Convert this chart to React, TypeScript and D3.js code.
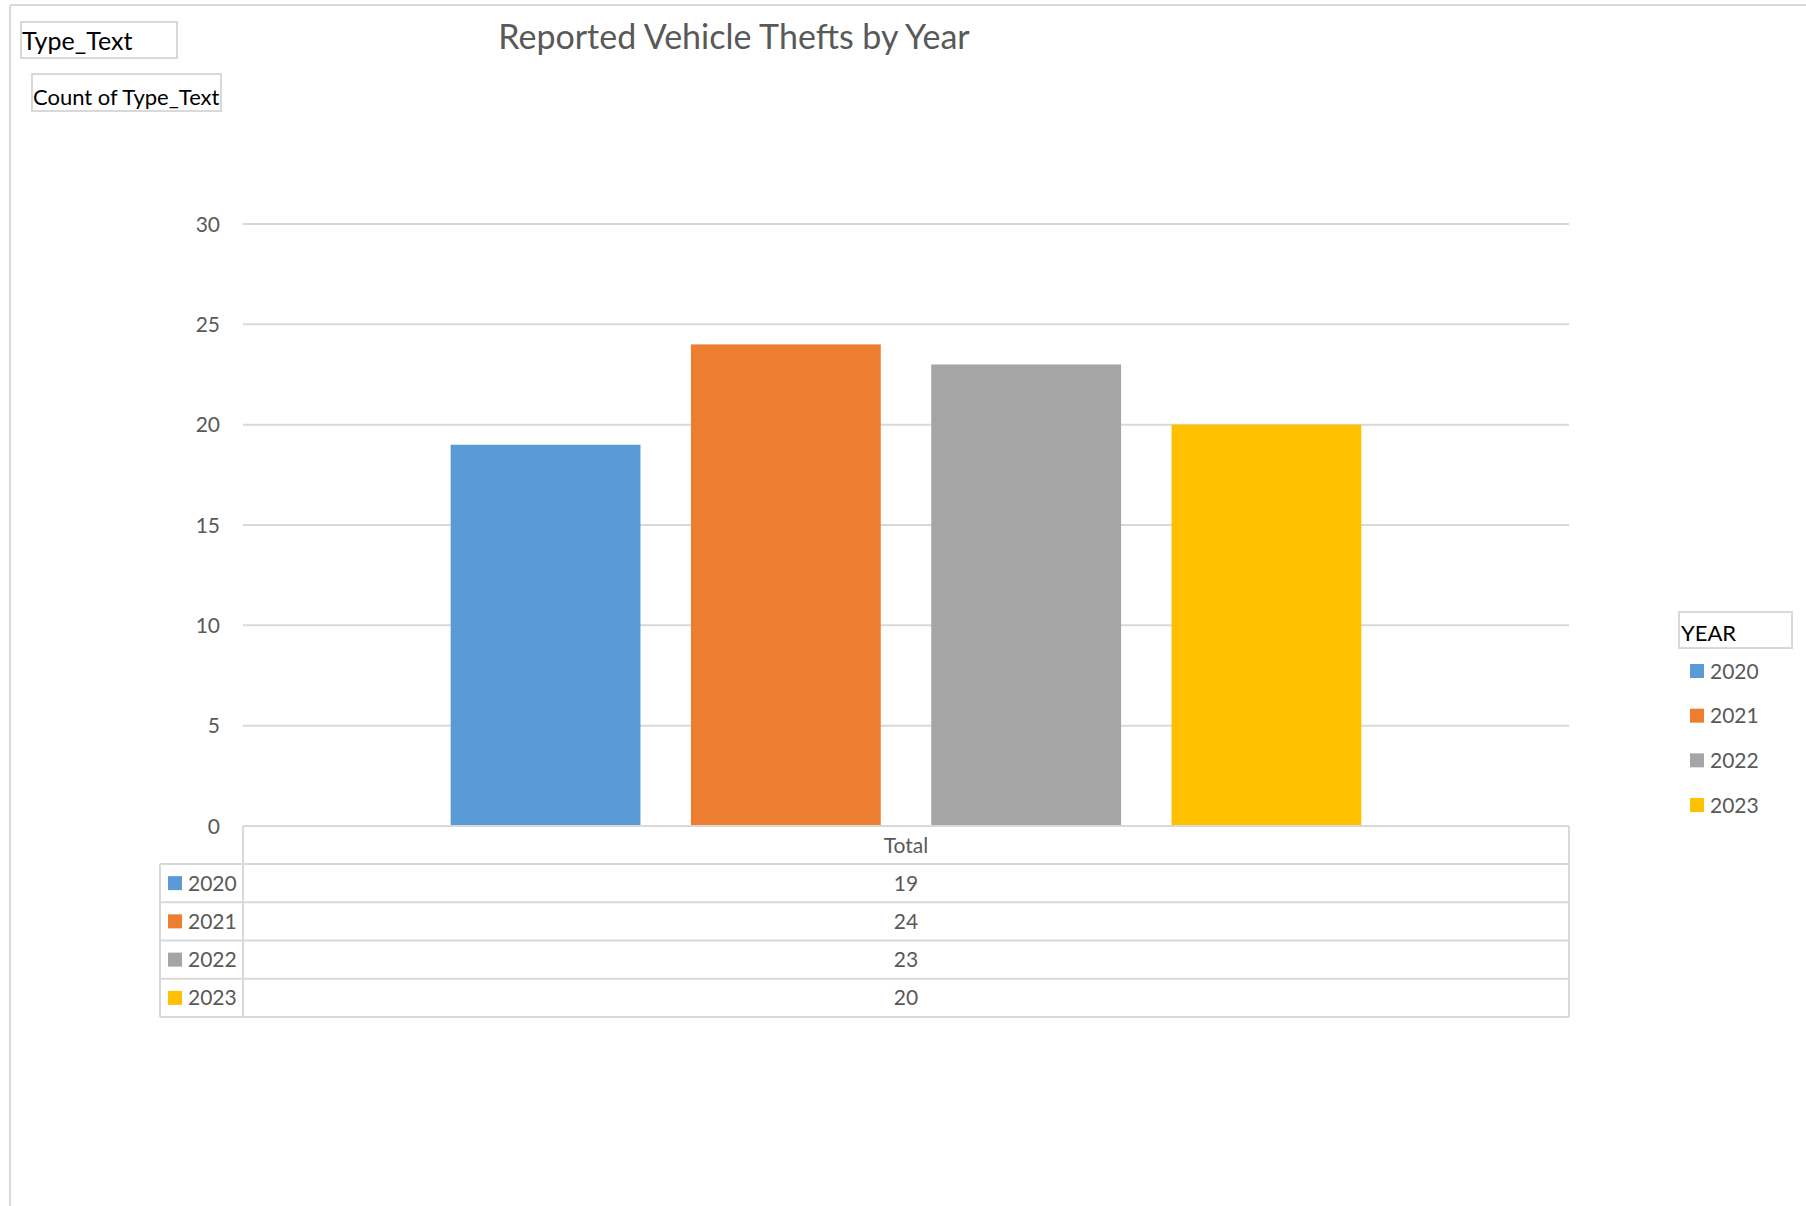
import * as d3 from 'd3';

const years = ['2020', '2021', '2022', '2023'];
const thefts = [19, 24, 23, 20];
const yearColors = ['#5B9BD5', '#ED7D31', '#A5A5A5', '#FFC000'];
const categories = ['Total'];
const yTicks = [0, 5, 10, 15, 20, 25, 30];

const FONT = 'Lato, Carlito, Calibri, sans-serif';
const GRID = '#d9d9d9';
const TEXT = '#595959';

export default function App() {
  // plot area
  const left = 243;
  const right = 1569;
  const top = 224;
  const bottom = 826;

  const y = d3.scaleLinear().domain([0, 30]).range([bottom, top]);
  const x0 = d3.scaleBand().domain(categories).range([left, right]).paddingInner(0).paddingOuter(0.228);
  const x1 = d3.scaleBand().domain(years).range([0, x0.bandwidth()]).paddingInner(0.21).paddingOuter(0);

  // data table rows
  const tableLeft = 160;
  const rows = d3.scaleBand().domain(years).range([864, 1017]);

  // right legend rows
  const legendY = d3.scalePoint().domain(years).range([671, 805]);

  const color = d3.scaleOrdinal<string, string>().domain(years).range(yearColors);

  return (
    <div style={{ position: 'absolute', left: 0, top: 0 }}>
      <svg width={1806} height={1206} style={{ display: 'block', background: '#fff' }} fontFamily={FONT}>
        {/* outer frame */}
        <line x1={10} y1={5} x2={1806} y2={5} stroke={GRID} strokeWidth={2} />
        <line x1={10} y1={5} x2={10} y2={1206} stroke={GRID} strokeWidth={2} />

        {/* pivot field buttons */}
        <rect x={21} y={22} width={156} height={36} fill="#fff" stroke={GRID} strokeWidth={2} />
        <text x={22} y={50} fontSize={25} fill="#000">Type_Text</text>
        <rect x={32} y={74} width={189} height={37} fill="#fff" stroke={GRID} strokeWidth={2} />
        <text x={33} y={105} fontSize={22} fill="#000">Count of Type_Text</text>

        {/* title */}
        <text x={734} y={49} fontSize={34} fill={TEXT} textAnchor="middle">
          Reported Vehicle Thefts by Year
        </text>

        {/* gridlines + y labels */}
        {yTicks.map((t) => (
          <g key={t}>
            {t > 0 && <line x1={left} x2={right} y1={y(t)} y2={y(t)} stroke={GRID} strokeWidth={2} />}
            <text x={220} y={y(t) - 1} fontSize={21} fill={TEXT} textAnchor="end" dominantBaseline="central">
              {t}
            </text>
          </g>
        ))}

        {/* bars */}
        {categories.map((c) => (
          <g key={c} transform={`translate(${x0(c)},0)`}>
            {years.map((yr, i) => (
              <rect
                key={yr}
                x={x1(yr)}
                y={y(thefts[i])}
                width={x1.bandwidth()}
                height={y(0) - y(thefts[i])}
                fill={color(yr)}
              />
            ))}
          </g>
        ))}

        {/* data table */}
        <g stroke={GRID} strokeWidth={2}>
          <line x1={left} x2={right} y1={bottom} y2={bottom} />
          <line x1={left} x2={left} y1={bottom} y2={rows.range()[1]} />
          <line x1={right} x2={right} y1={bottom} y2={rows.range()[1]} />
          <line x1={tableLeft} x2={tableLeft} y1={rows.range()[0]} y2={rows.range()[1]} />
          {years.map((yr) => (
            <line key={yr} x1={tableLeft} x2={right} y1={rows(yr)} y2={rows(yr)} />
          ))}
          <line x1={tableLeft} x2={right} y1={rows.range()[1]} y2={rows.range()[1]} />
        </g>
        {categories.map((c) => (
          <text
            key={c}
            x={(x0(c) as number) + x0.bandwidth() / 2}
            y={(bottom + rows.range()[0]) / 2 - 1}
            fontSize={21}
            fill={TEXT}
            textAnchor="middle"
            dominantBaseline="central"
          >
            {c}
          </text>
        ))}
        {years.map((yr, i) => {
          const cy = (rows(yr) as number) + rows.bandwidth() / 2;
          return (
            <g key={yr}>
              <rect x={168} y={cy - 7} width={14} height={14} fill={color(yr)} />
              <text x={188} y={cy - 1} fontSize={21} fill={TEXT} dominantBaseline="central">
                {yr}
              </text>
              <text
                x={(x0('Total') as number) + x0.bandwidth() / 2}
                y={cy - 1}
                fontSize={21}
                fill={TEXT}
                textAnchor="middle"
                dominantBaseline="central"
              >
                {thefts[i]}
              </text>
            </g>
          );
        })}

        {/* legend */}
        <rect x={1679} y={612} width={113} height={36} fill="#fff" stroke={GRID} strokeWidth={2} />
        <text x={1681} y={641} fontSize={22} fill="#000">YEAR</text>
        {years.map((yr) => (
          <g key={yr}>
            <rect x={1690} y={(legendY(yr) as number) - 7} width={14} height={14} fill={color(yr)} />
            <text x={1710} y={(legendY(yr) as number) - 1} fontSize={21} fill={TEXT} dominantBaseline="central">
              {yr}
            </text>
          </g>
        ))}
      </svg>
    </div>
  );
}
